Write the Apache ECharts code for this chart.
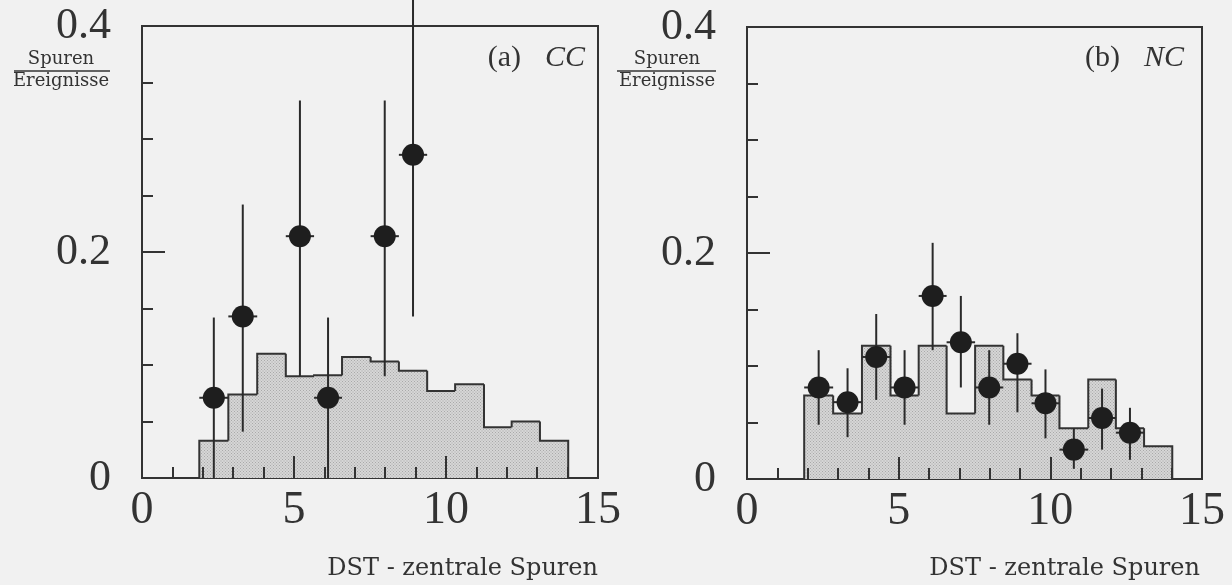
<!DOCTYPE html>
<html>
<head>
<meta charset="utf-8">
<script src="https://cdn.jsdelivr.net/npm/echarts@6/dist/echarts.min.js"></script>
<style>
  html, body { margin: 0; padding: 0; background: #f1f1f1; }
  #chart { width: 1232px; height: 585px; }
</style>
</head>
<body>
<div id="chart"></div>
<script>
// ---- data ----
const binEdges = [1.885, 2.84, 3.79, 4.73, 5.66, 6.58, 7.52, 8.45, 9.38, 10.30, 11.25, 12.16, 13.09, 14.02];

// simulation histogram (Spuren / Ereignisse)
const histCC = [0.033, 0.074, 0.110, 0.090, 0.091, 0.107, 0.103, 0.095, 0.077, 0.083, 0.045, 0.050, 0.033];
const histNC = [0.074, 0.058, 0.118, 0.074, 0.118, 0.058, 0.118, 0.088, 0.074, 0.045, 0.088, 0.045, 0.029];

// data points: bin index, value, error low, error high
const binCC  = [0, 1, 3, 4, 6, 7];
const valCC  = [0.071, 0.143, 0.214, 0.071, 0.214, 0.286];
const lowCC  = [0.000, 0.041, 0.090, 0.000, 0.090, 0.143];
const highCC = [0.142, 0.242, 0.334, 0.142, 0.334, 0.425];

const binNC  = [0, 1, 2, 3, 4, 5, 6, 7, 8, 9, 10, 11];
const valNC  = [0.081, 0.068, 0.108, 0.081, 0.162, 0.121, 0.081, 0.102, 0.067, 0.026, 0.054, 0.041];
const lowNC  = [0.048, 0.037, 0.070, 0.048, 0.114, 0.081, 0.048, 0.059, 0.036, 0.009, 0.026, 0.017];
const highNC = [0.114, 0.098, 0.146, 0.114, 0.209, 0.162, 0.114, 0.129, 0.097, 0.045, 0.080, 0.063];

const xTickLabels = ['0', '5', '10', '15'];
const yTickLabels = ['0', '0.2', '0.4'];
const panelTitles = [['(a)', 'CC'], ['(b)', 'NC']];
const xAxisTitle = 'DST - zentrale Spuren';
const yAxisTitleTop = 'Spuren';
const yAxisTitleBottom = 'Ereignisse';

// ---- build ----
const INK = '#2a2a2a';
const digitFont = '"Liberation Serif", "DejaVu Serif", serif';
const textFont = '"DejaVu Serif", "Liberation Serif", serif';

// stipple fill pattern
const pat = document.createElement('canvas');
pat.width = 3; pat.height = 3;
(function () {
  const c = pat.getContext('2d');
  c.fillStyle = '#d6d6d6'; c.fillRect(0, 0, 3, 3);
  c.fillStyle = '#a9a9a9'; c.fillRect(0, 0, 1, 1); c.fillRect(1.5, 1.5, 1, 1);
})();
const stipple = { image: pat, repeat: 'repeat' };

function histData(h) {
  return h.map((v, i) => [binEdges[i], binEdges[i + 1], v, i === 0 ? 0 : h[i - 1], i === h.length - 1 ? 1 : 0]);
}
function pointData(bins, val, lo, hi) {
  return bins.map((b, i) => [
    (binEdges[b] + binEdges[b + 1]) / 2, val[i], lo[i], hi[i], (binEdges[b + 1] - binEdges[b]) / 2
  ]);
}

function renderHist(params, api) {
  const x0 = api.value(0), x1 = api.value(1), h = api.value(2), hp = api.value(3), last = api.value(4);
  const a = api.coord([x0, 0]);
  const b = api.coord([x1, h]);
  const pts = [api.coord([x0, hp]), api.coord([x0, h]), api.coord([x1, h])];
  if (last) pts.push(api.coord([x1, 0]));
  return {
    type: 'group',
    children: [
      { type: 'rect', shape: { x: a[0], y: b[1], width: b[0] - a[0] + (last ? 0 : 1), height: a[1] - b[1] },
        style: { fill: stipple } },
      { type: 'polyline', shape: { points: pts },
        style: { stroke: '#333', lineWidth: 2, fill: null } }
    ]
  };
}

function renderPoint(params, api) {
  const x = api.value(0), y = api.value(1), lo = api.value(2), hi = api.value(3), hw = api.value(4);
  const c = api.coord([x, y]);
  const pl = api.coord([x, lo]), ph = api.coord([x, hi]);
  const xl = api.coord([x - hw, y]), xr = api.coord([x + hw, y]);
  return {
    type: 'group',
    children: [
      { type: 'line', shape: { x1: pl[0], y1: pl[1], x2: ph[0], y2: ph[1] },
        style: { stroke: INK, lineWidth: 2 } },
      { type: 'line', shape: { x1: xl[0], y1: xl[1], x2: xr[0], y2: xr[1] },
        style: { stroke: INK, lineWidth: 2 } },
      { type: 'circle', shape: { cx: c[0], cy: c[1], r: 11 },
        style: { fill: '#1e1e1e' } }
    ]
  };
}

const grids = [
  { left: 142, top: 26, width: 456, height: 452 },
  { left: 747, top: 27, width: 455, height: 452 }
];

function xAxisFor(i) {
  return {
    gridIndex: i, type: 'value', min: 0, max: 15, interval: 5, z: 10,
    axisLine: { show: false },
    axisTick: { show: true, inside: true, length: 22, lineStyle: { color: '#333', width: 2 } },
    minorTick: { show: true, splitNumber: 5, length: 11, lineStyle: { color: '#333', width: 2 } },
    splitLine: { show: false },
    axisLabel: {
      margin: 10, color: '#333', fontFamily: digitFont, fontSize: 46,
      formatter: v => xTickLabels[Math.round(v / 5)]
    }
  };
}
function yAxisFor(i) {
  return {
    gridIndex: i, type: 'value', min: 0, max: 0.4, interval: 0.2, z: 10,
    axisLine: { show: false },
    axisTick: { show: true, inside: true, length: 23, lineStyle: { color: '#333', width: 2 } },
    minorTick: { show: true, splitNumber: 4, length: 11, lineStyle: { color: '#333', width: 2 } },
    splitLine: { show: false },
    axisLabel: {
      margin: 31, color: '#333', fontFamily: digitFont, fontSize: 44,
      formatter: v => yTickLabels[Math.round(v / 0.2)]
    }
  };
}

const graphic = [];
const yTitleX = [61, 667];
const yLine = [[14, 110], [617, 716]];
const titleRight = [585, 1184];
const xTitleRight = [598, 1200];
for (let i = 0; i < 2; i++) {
  graphic.push({ type: 'text', x: yTitleX[i], y: 59, style: { text: yAxisTitleTop, font: '18px ' + textFont, fill: '#333', align: 'center', verticalAlign: 'middle' } });
  graphic.push({ type: 'line', shape: { x1: yLine[i][0], y1: 71, x2: yLine[i][1], y2: 71 }, style: { stroke: '#333', lineWidth: 1.5 } });
  graphic.push({ type: 'text', x: yTitleX[i], y: 81, style: { text: yAxisTitleBottom, font: '18px ' + textFont, fill: '#333', align: 'center', verticalAlign: 'middle' } });
  graphic.push({ type: 'text', x: titleRight[i], y: 58, style: {
    text: '{n|' + panelTitles[i][0] + '}{s| }{it|' + panelTitles[i][1] + '}',
    align: 'right', verticalAlign: 'middle',
    rich: {
      n: { fontFamily: digitFont, fontSize: 30, fill: '#333' },
      s: { fontFamily: digitFont, fontSize: 30, width: 24 },
      it: { fontFamily: digitFont, fontSize: 30, fontStyle: 'italic', fill: '#333' }
    }
  } });
  graphic.push({ type: 'text', x: xTitleRight[i], y: 569, style: { text: xAxisTitle, font: '24px ' + textFont, fill: '#333', align: 'right', verticalAlign: 'middle' } });
}

const chart = echarts.init(document.getElementById('chart'), null, { renderer: 'canvas' });
chart.setOption({
  backgroundColor: '#f1f1f1',
  animation: false,
  grid: grids.map(g => Object.assign({ show: true, borderColor: '#333', borderWidth: 2, backgroundColor: 'transparent' }, g)),
  xAxis: [xAxisFor(0), xAxisFor(1)],
  yAxis: [yAxisFor(0), yAxisFor(1)],
  series: [
    { type: 'custom', xAxisIndex: 0, yAxisIndex: 0, renderItem: renderHist, data: histData(histCC), encode: { x: [0, 1], y: 2 }, z: 1 },
    { type: 'custom', xAxisIndex: 1, yAxisIndex: 1, renderItem: renderHist, data: histData(histNC), encode: { x: [0, 1], y: 2 }, z: 1 },
    { type: 'custom', xAxisIndex: 0, yAxisIndex: 0, renderItem: renderPoint, data: pointData(binCC, valCC, lowCC, highCC), encode: { x: 0, y: [1, 2, 3] }, z: 3 },
    { type: 'custom', xAxisIndex: 1, yAxisIndex: 1, renderItem: renderPoint, data: pointData(binNC, valNC, lowNC, highNC), encode: { x: 0, y: [1, 2, 3] }, z: 3 }
  ],
  graphic: graphic
});
</script>
</body>
</html>
